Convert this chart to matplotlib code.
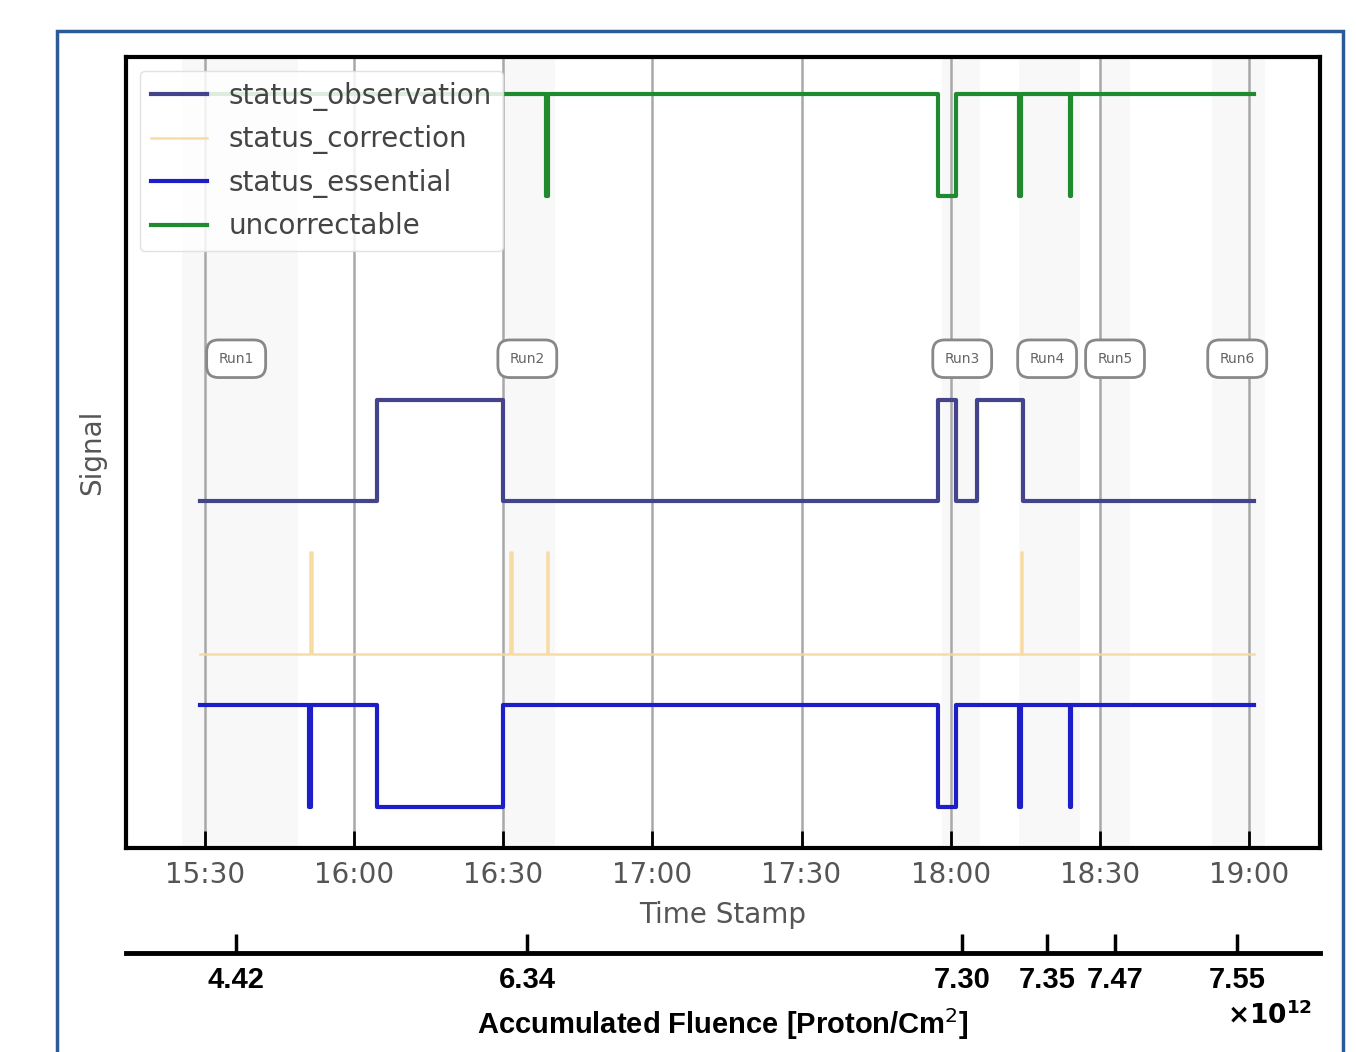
import matplotlib
matplotlib.use('Agg')
import matplotlib.pyplot as plt
import matplotlib.dates as mdates
from matplotlib.patches import Rectangle
from datetime import datetime

# transitions of each status signal (time, level)
obs_times = ['15:29:00', '16:04:36', '16:30:00', '17:57:24', '18:01:06', '18:05:18', '18:14:36', '19:01:00']
obs_vals = [0, 1, 0, 1, 0, 1, 0, 0]

corr_times = ['15:29:00', '15:51:10', '15:51:25', '16:31:25', '16:31:40', '16:38:45', '16:39:00',
              '18:14:05', '18:14:20', '19:01:00']
corr_vals = [0, 1, 0, 1, 0, 1, 0, 1, 0, 0]

ess_times = ['15:29:00', '15:51:00', '15:51:20', '16:04:36', '16:30:00', '17:57:24', '18:01:06',
             '18:13:50', '18:14:15', '18:24:00', '18:24:15', '19:01:00']
ess_vals = [1, 0, 1, 0, 1, 0, 1, 0, 1, 0, 1, 1]

unc_times = ['15:29:00', '16:38:40', '16:39:00', '17:57:24', '18:01:06', '18:13:50', '18:14:15',
             '18:24:00', '18:24:15', '19:01:00']
unc_vals = [1, 0, 1, 0, 1, 0, 1, 0, 1, 1]

# runs: label position time, accumulated fluence (x1e12)
run_names = ['Run1', 'Run2', 'Run3', 'Run4', 'Run5', 'Run6']
run_times = ['15:36:15', '16:34:50', '18:02:20', '18:19:25', '18:33:05', '18:57:40']
fluence = ['4.42', '6.34', '7.30', '7.35', '7.47', '7.55']

# light shaded windows
win_start = ['15:25:20', '16:30:00', '17:58:20', '18:13:50', '18:29:55', '18:52:35']
win_end = ['15:48:40', '16:40:25', '18:05:55', '18:26:00', '18:36:05', '19:03:20']


def tt(s):
    return datetime.strptime('2021-01-01 ' + s, '%Y-%m-%d %H:%M:%S')


fig = plt.figure(figsize=(13.56, 10.52), dpi=100)
ax = fig.add_axes([0.0929, 0.1939, 0.8806, 0.7519])

for a, b in zip(win_start, win_end):
    ax.axvspan(tt(a), tt(b), color='#f8f8f8', zorder=0, lw=0)

series = [
    ('status_observation', obs_times, obs_vals, 3.0, '#44448c', 3.0, 1.0),
    ('status_correction', corr_times, corr_vals, 1.5, '#f8d898', 1.8, 0.9),
    ('status_essential', ess_times, ess_vals, 0.0, '#1e1ec8', 3.0, 1.0),
    ('uncorrectable', unc_times, unc_vals, 6.0, '#1f8a2e', 3.0, 1.0),
]
for name, ts, vs, off, col, lw, al in series:
    ax.plot([tt(s) for s in ts], [v + off for v in vs], drawstyle='steps-post',
            color=col, lw=lw, alpha=al, label=name, zorder=3)

for name, s in zip(run_names, run_times):
    ax.text(tt(s), 4.4, name, ha='center', va='center', fontsize=10, color='#666666',
            bbox=dict(boxstyle='round,pad=0.85', fc='white', ec='#888888', lw=2), zorder=5)

ax.set_xlim(tt('15:14:05'), tt('19:14:20'))
ax.set_ylim(-0.4, 7.36)
ax.set_yticks([])
ax.xaxis.set_major_locator(mdates.MinuteLocator(byminute=[0, 30]))
ax.xaxis.set_major_formatter(mdates.DateFormatter('%H:%M'))
ax.grid(axis='x', color='#a8a8a8', lw=1.8, zorder=1)
ax.tick_params(axis='x', direction='in', length=12, width=2, labelsize=20,
               labelcolor='#555555', pad=9)
for sp in ax.spines.values():
    sp.set_linewidth(3)
ax.set_xlabel('Time Stamp', fontsize=20, color='#555555', labelpad=9)
ax.set_ylabel('Signal', fontsize=20, color='#555555', labelpad=14)

leg = ax.legend(loc='upper left', fontsize=20, labelspacing=0.52, framealpha=0.85,
                edgecolor='#dddddd', borderaxespad=0.5)
for txt in leg.get_texts():
    txt.set_color('#444444')

# second axis with the accumulated fluence
ax2 = ax.twiny()
ax2.set_xlim(ax.get_xlim())
ax2.xaxis.set_ticks_position('bottom')
ax2.xaxis.set_label_position('bottom')
ax2.spines['bottom'].set_position(('outward', 75.6))
for k in ['top', 'left', 'right']:
    ax2.spines[k].set_visible(False)
ax2.spines['bottom'].set_linewidth(3.5)
ax2.set_xticks([mdates.date2num(tt(s)) for s in run_times])
ax2.set_xticklabels(fluence, fontsize=21, fontweight='bold', family='Liberation Sans')
ax2.tick_params(axis='x', direction='in', length=14, width=2.5, pad=9)
ax2.set_xlabel('Accumulated Fluence [Proton/Cm$^2$]', fontsize=21, fontweight='bold',
               family='Liberation Sans', labelpad=9)
fig.text(0.9366, 0.034, r'$\mathbf{\times 10^{12}}$', fontsize=19, ha='center', va='center')

# blue frame round the figure
fig.add_artist(Rectangle((57 / 1356, -0.05), (1343 - 57) / 1356, 0.9705 + 0.05,
                         transform=fig.transFigure, fill=False, ec='#2c5a99', lw=2.5,
                         clip_on=False))

fig.savefig('out.png', dpi=100)
